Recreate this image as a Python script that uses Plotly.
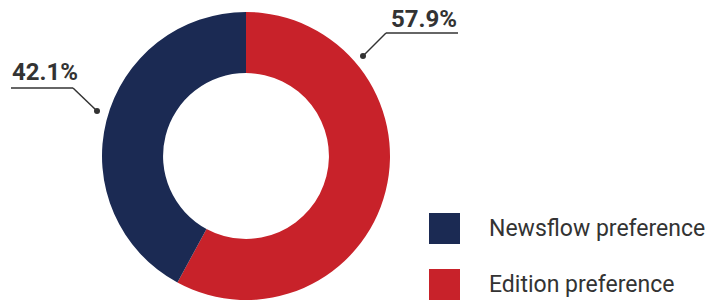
import plotly.graph_objects as go

# ---- data ----
categories = ["Newsflow preference", "Edition preference"]
values = [42.1, 57.9]
colors = ["#1b2a53", "#c8222a"]
value_labels = [f"{v}%" for v in values]

W, H = 722, 302


def px(x):
    return x / W


def py(y):
    return 1 - y / H


fig = go.Figure()

# donut geometry (pixels); Edition slice drawn first, clockwise from 12 o'clock
cx, cy, r = 246, 156, 144
fig.add_trace(go.Pie(
    labels=categories[::-1],
    values=values[::-1],
    hole=0.576,
    sort=False,
    direction="clockwise",
    rotation=0,
    marker=dict(colors=colors[::-1], line=dict(width=0)),
    textinfo="none",
    hoverinfo="label+percent",
    showlegend=False,
    domain=dict(x=[px(cx - r), px(cx + r)], y=[py(cy + r), py(cy - r)]),
))

shapes = []
annotations = []
line_col = "#333333"

callouts = [
    dict(text=value_labels[0], tx=10, ty=72, ux0=11, ux1=73, uy=88, elbow=73, dx=97, dy=111),
    dict(text=value_labels[1], tx=389, ty=19, ux0=386, ux1=458, uy=33, elbow=386, dx=363, dy=56),
]
for c in callouts:
    annotations.append(dict(
        x=px(c["tx"]), y=py(c["ty"]), xref="paper", yref="paper",
        xanchor="left", yanchor="middle", showarrow=False,
        text=f"<b>{c['text']}</b>",
        font=dict(family="Roboto", size=24, color="#333333"),
    ))
    shapes.append(dict(type="line", xref="paper", yref="paper",
                       x0=px(c["ux0"]), x1=px(c["ux1"]), y0=py(c["uy"]), y1=py(c["uy"]),
                       line=dict(color=line_col, width=1.5)))
    shapes.append(dict(type="line", xref="paper", yref="paper",
                       x0=px(c["elbow"]), x1=px(c["dx"]), y0=py(c["uy"]), y1=py(c["dy"]),
                       line=dict(color=line_col, width=1.5)))
    shapes.append(dict(type="circle", xref="paper", yref="paper",
                       x0=px(c["dx"] - 3), x1=px(c["dx"] + 3),
                       y0=py(c["dy"] + 3), y1=py(c["dy"] - 3),
                       fillcolor=line_col, line=dict(width=0)))

# custom legend
leg_y = [228.5, 284.5]
for name, col, yc in zip(categories, colors, leg_y):
    shapes.append(dict(type="rect", xref="paper", yref="paper",
                       x0=px(429), x1=px(460), y0=py(yc + 15.5), y1=py(yc - 15.5),
                       fillcolor=col, line=dict(width=0)))
    annotations.append(dict(
        x=px(487), y=py(yc), xref="paper", yref="paper",
        xanchor="left", yanchor="middle", showarrow=False,
        text=name,
        font=dict(family="Roboto", size=23, color="#333333"),
    ))

fig.update_layout(
    width=W, height=H,
    margin=dict(l=0, r=0, t=0, b=0),
    paper_bgcolor="white", plot_bgcolor="white",
    shapes=shapes, annotations=annotations,
)

fig.write_html("out.html", config={"displayModeBar": False},
               post_script="document.body.style.margin='0';document.body.style.overflow='hidden';")
